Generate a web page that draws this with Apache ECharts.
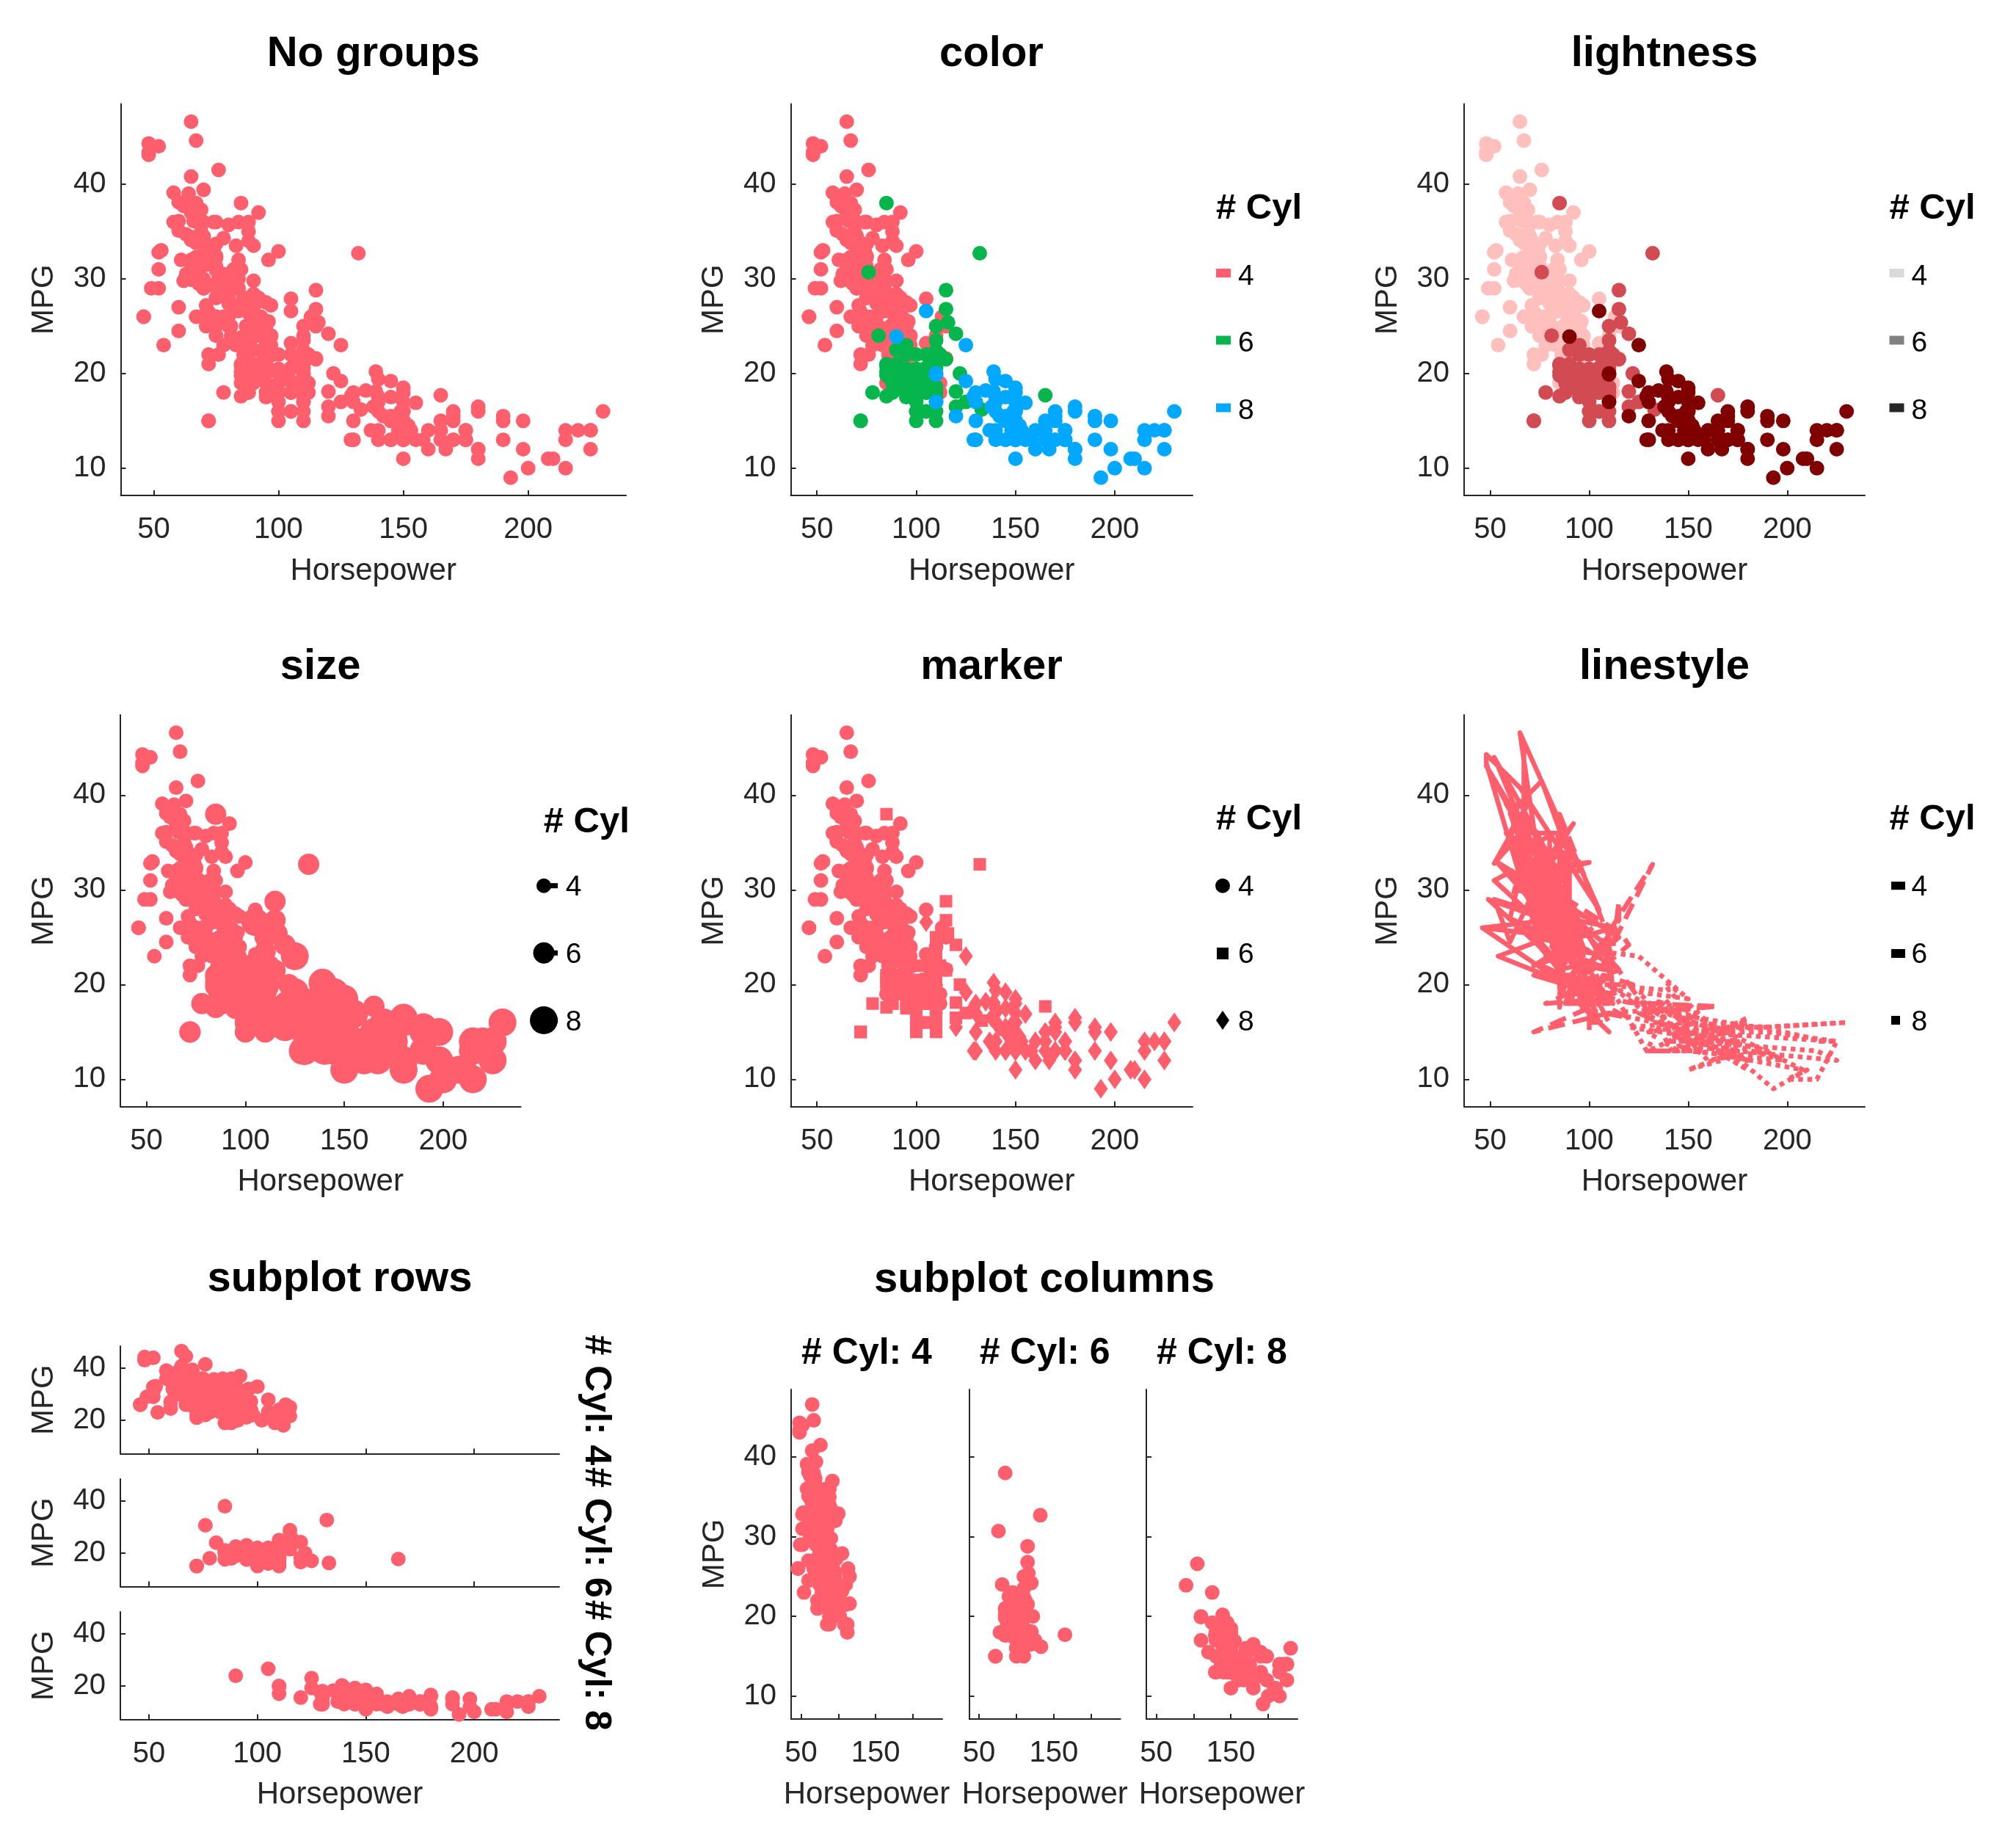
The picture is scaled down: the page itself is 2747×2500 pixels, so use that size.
<!DOCTYPE html>
<html><head><meta charset="utf-8">
<script src="https://cdn.jsdelivr.net/npm/echarts@6/dist/echarts.min.js"></script>
<style>html,body{margin:0;padding:0;background:#fff}#c{width:2747px;height:2500px}</style>
</head><body><div id="c"></div>
<script>
// ---------------- data (Horsepower, MPG) per cylinder group, in data order ----------------
const cylinderGroups = ['4', '6', '8'];
const cyl4Points = [[95,24],[88,27],[46,26],[87,25],[90,24],[95,25],[113,26],[88,27],[90,28],[95,25],[72,22],[86,23],[90,28],[70,30],[76,30],[65,31],[69,35],[60,27],[70,26],[95,24],[80,25],[54,23],[90,20],[86,21],[112,18],[76,22],[87,21],[69,26],[86,22],[92,28],[97,23],[80,28],[88,27],[46,26],[88,20],[72,21],[94,22],[85,19],[90,26],[49,29],[75,24],[91,20],[112,19],[110,24],[67,31],[80,26],[65,32],[75,25],[83,29],[67,26],[78,26],[52,31],[61,32],[75,28],[75,24],[75,26],[97,24],[93,26],[67,31],[75,29],[83,23],[78,23],[96,24],[71,25],[97,24],[70,29],[95,23],[88,23],[98,22],[115,25],[53,33],[86,28],[81,25],[92,25],[79,26],[83,27],[52,29],[60,24.5],[70,29],[53,33],[71,29.5],[70,32],[75,28],[72,26.5],[102,20],[88,19],[108,19],[68,31.5],[80,30],[58,36],[96,25.5],[70,33.5],[78,29],[88,24.5],[75,26],[89,25.5],[63,30.5],[83,33.5],[67,30],[78,30.5],[97,22],[110,21.5],[48,43.1],[66,36.1],[52,32.8],[70,39.4],[60,36.1],[88,25.1],[68,30],[95,27.5],[97,27.2],[75,30.9],[95,21.1],[105,23.2],[85,23.8],[97,23.9],[115,21.6],[71,31.5],[68,29.5],[88,22.3],[71,31.9],[65,34.1],[80,35.7],[80,27.4],[71,27.2],[70,34.2],[70,34.5],[65,31.8],[69,37.3],[90,28.4],[90,33.5],[76,41.5],[60,38.1],[70,32.1],[65,37.2],[90,28],[88,26.4],[90,24.3],[78,34.3],[90,29.8],[75,31.3],[92,37],[75,32.2],[65,46.6],[105,27.9],[65,40.8],[48,44.3],[48,43.4],[67,30],[67,44.6],[67,33.8],[62,29.8],[88,35],[72,32.4],[84,27.2],[84,26.6],[92,25.8],[84,30],[58,39.1],[64,39],[60,35.1],[67,32.3],[65,37],[62,37.7],[68,34.1],[63,34.7],[65,34.4],[65,29.9],[74,33],[75,33.7],[75,32.4],[100,32.9],[74,31.6],[80,28.1],[88,28],[88,27],[88,34],[85,31],[84,29],[90,27],[92,24],[74,36],[68,37],[68,31],[63,38],[70,36],[88,36],[75,36],[70,34],[67,38],[67,32],[96,32],[84,36],[90,27],[86,27],[52,44],[84,32],[79,28],[82,31]];
const cyl6Points = [[95,22],[97,18],[85,21],[90,21],[100,19],[105,16],[100,17],[88,19],[100,18],[110,18],[100,19],[88,18],[105,18],[100,16],[100,18],[88,18],[95,23],[100,18],[107,21],[122,20],[95,20],[100,19],[100,15],[100,16],[110,16],[105,18],[95,19],[105,18],[72,15],[72,15],[110,17],[105,16],[110,15],[95,18],[110,21],[100,20],[97,18],[90,19],[100,22],[105,22],[81,24],[90,22.5],[100,20],[78,18],[110,18.5],[95,17.5],[120,16.5],[110,17.5],[105,20.5],[100,19],[98,18.5],[105,19.2],[95,20.5],[85,20.2],[100,20.5],[90,19.4],[105,20.6],[85,20.8],[110,18.6],[120,18.1],[165,17.7],[125,17],[133,16.2],[115,21.5],[85,19.8],[90,20.2],[110,20.6],[115,28.8],[115,26.8],[90,19.1],[132,32.7],[110,23.5],[76,30.7],[116,25.4],[120,24.2],[110,22.4],[88,20.2],[85,17.6],[85,38],[110,25],[112,22]];
const cyl8Points = [[130,18],[165,15],[150,18],[150,16],[140,17],[198,15],[220,14],[215,14],[225,14],[190,15],[170,15],[160,14],[150,15],[225,14],[215,10],[200,10],[210,11],[193,9],[165,14],[175,14],[153,14],[150,14],[180,12],[170,13],[175,13],[165,13],[175,14],[150,15],[153,14],[150,17],[208,11],[155,13],[160,12],[190,13],[150,15],[130,13],[140,13],[150,14],[175,13],[150,14],[145,13],[137,14],[150,15],[198,12],[150,13],[158,13],[150,14],[215,13],[225,12],[175,13],[150,11],[167,12],[170,13],[180,12],[145,15],[230,16],[150,15],[180,11],[140,16],[150,13],[150,14],[140,14],[150,14],[170,16],[145,15],[150,16],[148,14],[110,20],[129,13],[140,17.5],[150,16],[120,15.5],[152,14.5],[150,13],[180,16.5],[145,13],[130,13],[150,13],[145,17.5],[110,17],[145,15.5],[130,15],[180,16],[170,15.5],[190,15.5],[149,16],[110,19.9],[140,19.4],[139,20.2],[145,19.2],[139,18.1],[140,17.5],[130,17],[129,17.6],[138,16.5],[135,18.2],[155,16.9],[142,15.5],[125,19.2],[150,18.5],[125,23],[90,23.9],[105,26.6]];
const xTickValues = [50, 100, 150, 200];
const xTickLabelsColumns = [50, 150];
const yTickValues = [10, 20, 30, 40];
const yTickValuesRows = [20, 40];
const panelTitles = ['No groups', 'color', 'lightness', 'size', 'marker', 'linestyle', 'subplot rows', 'subplot columns'];
const facetPrefix = '# Cyl: ';
const legendTitle = '# Cyl';
const xName = 'Horsepower', yName = 'MPG';

// ---------------- styles ----------------
const FONT = "'Liberation Sans', Arial, Helvetica, sans-serif";
const AXC = '#262626';
const RED = '#FF5F6D';
const hueColors = ['#FF5F6D', '#06B54B', '#00A8FF'];
const lightColors = ['#FFC0BD', '#D24A52', '#800000'];
const lightLegend = ['#D9D9D9', '#808080', '#262626'];
const sizes = [20, 29, 38];
const diamond = 'path://M0,-14L10,0L0,14L-10,0Z';
const markerSymbols = ['circle', 'rect', diamond];
const markerSizes = [20, 17, [19, 27]];
const lineTypes = ['solid', [23, 11], [6.5, 6]];
const XMIN = 36.8, XMAX = 239.2, YMIN = 7.12, YMAX = 48.48;
const groups = [cyl4Points, cyl6Points, cyl8Points];
const TICK_FS = 40, NAME_FS = 42;

const grids = [], xAxes = [], yAxes = [], series = [];
function addAxes(rect, o) {
  const i = grids.length;
  grids.push({left: rect[0], top: rect[1], width: rect[2], height: rect[3], containLabel: false});
  xAxes.push({
    type: 'value', gridIndex: i, min: XMIN, max: XMAX,
    axisLine: {show: true, onZero: false, lineStyle: {color: AXC, width: 2}},
    axisTick: {show: true, inside: true, length: 7, customValues: xTickValues, lineStyle: {color: AXC, width: 2}},
    axisLabel: {show: o.xLabels !== false, customValues: o.xLabelValues || xTickValues, fontSize: TICK_FS, color: AXC, fontFamily: FONT, margin: 27},
    splitLine: {show: false},
    name: o.xName === false ? '' : xName, nameLocation: 'middle', nameGap: 82,
    nameTextStyle: {fontSize: NAME_FS, color: AXC, fontFamily: FONT}
  });
  yAxes.push({
    type: 'value', gridIndex: i, min: YMIN, max: YMAX,
    axisLine: {show: true, onZero: false, lineStyle: {color: AXC, width: 2}},
    axisTick: {show: true, inside: true, length: 7, customValues: o.yTicks || yTickValues, lineStyle: {color: AXC, width: 2}},
    axisLabel: {show: o.yLabels !== false, customValues: o.yTicks || yTickValues, fontSize: TICK_FS, color: AXC, fontFamily: FONT, margin: 20},
    splitLine: {show: false},
    name: o.yName === false ? '' : yName, nameLocation: 'middle', nameGap: 83,
    nameTextStyle: {fontSize: NAME_FS, color: AXC, fontFamily: FONT}
  });
  return i;
}
function scatter(ax, data, color, size, symbol) {
  series.push({type: 'scatter', xAxisIndex: ax, yAxisIndex: ax, data: data,
    symbol: symbol || 'circle', symbolSize: size || 20,
    itemStyle: {color: color, opacity: 1}, silent: true, animation: false});
}

// Panel 1: no groups
const a1 = addAxes([164.5, 141.5, 688.5, 533.5], {});
scatter(a1, groups[0].concat(groups[1], groups[2]), RED);
// Panel 2: color
const a2 = addAxes([1077.5, 141.5, 547.5, 533.5], {});
groups.forEach((g, k) => scatter(a2, g, hueColors[k]));
// Panel 3: lightness
const a3 = addAxes([1995, 141.5, 546, 533.5], {});
groups.forEach((g, k) => scatter(a3, g, lightColors[k]));
// Panel 4: size
const a4 = addAxes([164, 974, 545.5, 533.6], {});
groups.forEach((g, k) => scatter(a4, g, RED, sizes[k]));
// Panel 5: marker
const a5 = addAxes([1077.5, 974, 547.5, 533.6], {});
groups.forEach((g, k) => scatter(a5, g, RED, markerSizes[k], markerSymbols[k]));
// Panel 6: linestyle
const a6 = addAxes([1995, 974, 546, 533.6], {});
groups.forEach((g, k) => series.push({type: 'line', xAxisIndex: a6, yAxisIndex: a6, data: g,
  showSymbol: false, symbol: 'none', silent: true, animation: false,
  lineStyle: {color: RED, width: 6.5, type: lineTypes[k], cap: 'butt', join: 'round'}}));
// Panel 7: subplot rows
const rowTops = [1834, 2015, 2196];
rowTops.forEach((t, k) => {
  const last = k === 2;
  const a = addAxes([164, t, 598, 146.5], {yTicks: yTickValuesRows, xLabels: last, xName: last ? undefined : false});
  scatter(a, groups[k], RED);
});
// Panel 8: subplot columns
const colLefts = [1078, 1320.6, 1562];
colLefts.forEach((l, k) => {
  const a = addAxes([l, 1893, 206, 449], {xLabelValues: xTickLabelsColumns, yLabels: k === 0, yName: k === 0 ? undefined : false});
  scatter(a, groups[k], RED);
});

// ---------------- text & legends ----------------
const graphic = [];
function txt(x, y, text, size, bold, align, va, rot, color) {
  graphic.push({type: 'text', x: x, y: y, rotation: rot || 0, silent: true,
    style: {text: text, x: 0, y: 0, fill: color || '#000', font: (bold ? 'bold ' : '') + size + 'px ' + FONT,
      textAlign: align || 'center', textVerticalAlign: va || 'middle', align: align || 'center', verticalAlign: va || 'middle'}});
}
const titlePos = [[508.7, 74], [1351, 74], [2268, 74], [436.6, 909], [1351, 909], [2268, 909], [463, 1743], [1423, 1744]];
panelTitles.forEach((t, k) => txt(titlePos[k][0], titlePos[k][1], t, 58, true));
// facet labels
const rowCenters = [1907.5, 2088, 2269];
rowCenters.forEach((c, k) => txt(812, c, facetPrefix + cylinderGroups[k], 50, true, 'center', 'middle', -Math.PI / 2));
colLefts.forEach((l, k) => txt(l + 103, 1844, facetPrefix + cylinderGroups[k], 50, true));

const entryY = [375, 466.5, 558.5];
function legendHead(x, y) { txt(x, y, legendTitle, 49, true, 'left'); }
function legendLabels(x, dy) { cylinderGroups.forEach((c, k) => txt(x, entryY[k] + dy + 2, c, 39, false, 'left')); }
// color legend
legendHead(1657, 284);
hueColors.forEach((c, k) => graphic.push({type: 'rect', silent: true, shape: {x: 1657, y: entryY[k] - 3 - 6, width: 20, height: 12}, style: {fill: c}}));
legendLabels(1687, 0);
// lightness legend
legendHead(2574.5, 284);
lightLegend.forEach((c, k) => graphic.push({type: 'rect', silent: true, shape: {x: 2574.5, y: entryY[k] - 3 - 6, width: 20, height: 12}, style: {fill: c}}));
legendLabels(2604.5, 0);
// size legend
txt(740.7, 1120, legendTitle, 49, true, 'left');
const sizeY = [1206.7, 1298.3, 1390];
sizes.forEach((s, k) => {
  graphic.push({type: 'rect', silent: true, shape: {x: 741, y: sizeY[k] - 3.5, width: 19, height: 7}, style: {fill: '#000'}});
  graphic.push({type: 'circle', silent: true, shape: {cx: 741, cy: sizeY[k], r: s / 2}, style: {fill: '#000'}});
  txt(770.7, sizeY[k] + 3, cylinderGroups[k], 39, false, 'left');
});
// marker legend
const dyRow2 = 832.6;
legendHead(1657, 284 + dyRow2);
const my = [1206.7, 1299, 1390];
graphic.push({type: 'circle', silent: true, shape: {cx: 1666, cy: my[0], r: 10}, style: {fill: '#000'}});
graphic.push({type: 'rect', silent: true, shape: {x: 1658, y: my[1] - 8, width: 16, height: 16}, style: {fill: '#000'}});
graphic.push({type: 'polygon', silent: true, shape: {points: [[1666, my[2] - 13], [1675, my[2]], [1666, my[2] + 13], [1657, my[2]]]}, style: {fill: '#000'}});
legendLabels(1687, dyRow2);
// linestyle legend
legendHead(2574.5, 284 + dyRow2);
graphic.push({type: 'rect', silent: true, shape: {x: 2577, y: my[0] - 5.5, width: 19, height: 11}, style: {fill: '#000'}});
graphic.push({type: 'rect', silent: true, shape: {x: 2577, y: my[1] - 6, width: 19, height: 12}, style: {fill: '#000'}});
graphic.push({type: 'rect', silent: true, shape: {x: 2577, y: my[2] - 6, width: 12, height: 12}, style: {fill: '#000'}});
legendLabels(2604.5, dyRow2);

const chart = echarts.init(document.getElementById('c'), null, {renderer: 'canvas', width: 2747, height: 2500});
chart.setOption({
  backgroundColor: '#ffffff', animation: false,
  grid: grids, xAxis: xAxes, yAxis: yAxes, series: series, graphic: graphic
});
</script></body></html>
